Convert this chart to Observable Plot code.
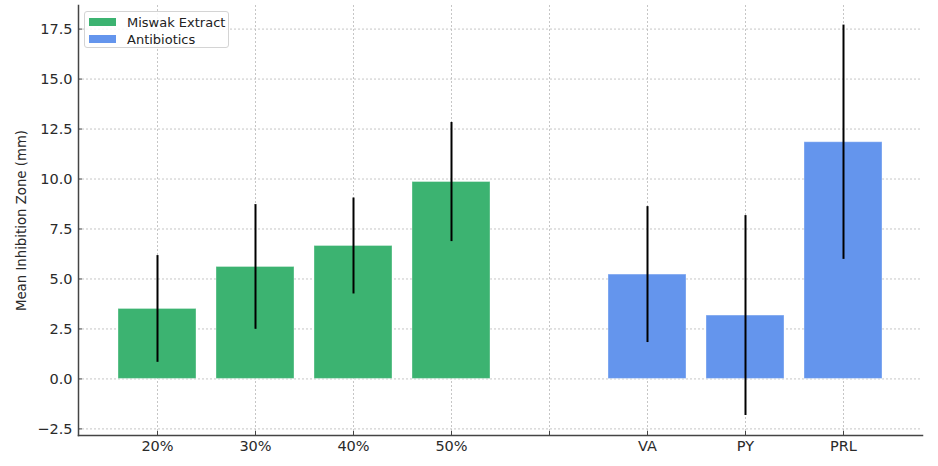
<!DOCTYPE html>
<html><head><meta charset="utf-8">
<script src="https://cdn.jsdelivr.net/npm/d3@7"></script>
<script src="https://cdn.jsdelivr.net/npm/@observablehq/plot@0.6"></script>
<style>
body{margin:0;background:#fff;font-family:"DejaVu Sans",sans-serif}
#wrap{position:relative;width:938px;height:466px}
.legend{position:absolute;left:84px;top:11px;width:145px;height:37px;border:1px solid #d4d4d4;border-radius:3px;background:rgba(255,255,255,.85);font-size:13px;color:#222;box-sizing:border-box}
.legend .row{position:absolute;left:4px;height:14px;display:flex;align-items:center}
.legend .sw{width:27px;height:8px;margin-right:11px}
</style></head>
<body>
<div id="wrap"></div>
<script>
const extractLabels = ["20%", "30%", "40%", "50%"];
const extractMeans = [3.5, 5.6, 6.65, 9.85];
const extractErrors = [2.67, 3.12, 2.4, 2.98];
const antibioticLabels = ["VA", "PY", "PRL"];
const antibioticMeans = [5.22, 3.17, 11.84];
const antibioticErrors = [3.4, 5.0, 5.86];
const groups = ["Miswak Extract", "Antibiotics"];
const groupColors = ["#3cb371", "#6495ed"];
const yTicks = [-2.5, 0, 2.5, 5, 7.5, 10, 12.5, 15, 17.5];
const spacer = " ";

const rows = [
  ...extractLabels.map((label, i) => ({label, group: groups[0], mean: extractMeans[i], err: extractErrors[i]})),
  ...antibioticLabels.map((label, i) => ({label, group: groups[1], mean: antibioticMeans[i], err: antibioticErrors[i]}))
];
const xDomain = [...extractLabels, spacer, ...antibioticLabels];

const chart = Plot.plot({
  width: 938, height: 466,
  marginLeft: 78, marginRight: 16, marginTop: 5, marginBottom: 31,
  style: {fontFamily: "DejaVu Sans, sans-serif", fontSize: "14.5px", color: "#2a2a2a", background: "#fff"},
  x: {type: "band", domain: xDomain, paddingInner: 0.2, paddingOuter: 0.39},
  y: {domain: [-2.83, 18.68]},
  color: {domain: groups, range: groupColors},
  marks: [
    Plot.gridY(yTicks, {stroke: "#b8b8b8", strokeOpacity: 0.8, strokeDasharray: "2,2"}),
    Plot.gridX(xDomain, {stroke: "#b8b8b8", strokeOpacity: 0.8, strokeDasharray: "2,2"}),
    Plot.barY(rows, {x: "label", y: "mean", fill: "group", stroke: "#fff", strokeOpacity: 0.35, strokeWidth: 1}),
    Plot.ruleX(rows, {x: "label", y1: d => d.mean - d.err, y2: d => d.mean + d.err, stroke: "#000", strokeWidth: 2}),
    Plot.axisY(yTicks, {tickFormat: d3.format(".1f"), tickSize: -4, tickPadding: 10, stroke: "#444", label: null}),
    Plot.axisY({ticks: [], label: "Mean Inhibition Zone (mm)", labelAnchor: "center", labelArrow: "none", labelOffset: 62, fontSize: "13.3px"}),
    Plot.axisX({tickSize: -4, tickPadding: 9, stroke: "#444", label: null}),
    Plot.frame({anchor: "left", stroke: "#444", strokeWidth: 1.5}),
    Plot.frame({anchor: "bottom", stroke: "#444", strokeWidth: 1.5})
  ]
});

const wrap = document.getElementById("wrap");
wrap.appendChild(chart);
const legend = document.createElement("div");
legend.className = "legend";
groups.forEach((g, i) => {
  const row = document.createElement("div");
  row.className = "row";
  row.style.top = (3 + i * 17) + "px";
  const sw = document.createElement("span");
  sw.className = "sw";
  sw.style.background = groupColors[i];
  row.appendChild(sw);
  row.appendChild(document.createTextNode(g));
  legend.appendChild(row);
});
wrap.appendChild(legend);
</script>
</body></html>
